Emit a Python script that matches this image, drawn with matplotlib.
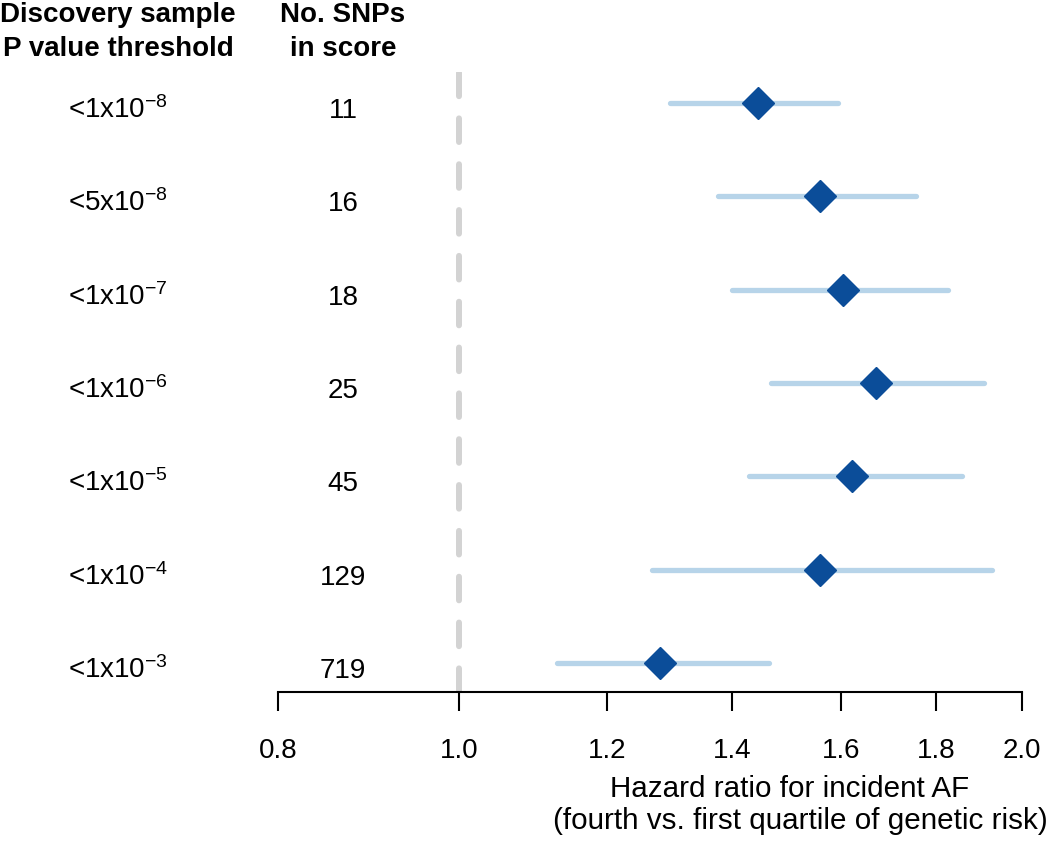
import matplotlib
matplotlib.use('Agg')
import matplotlib.pyplot as plt
import matplotlib.transforms as mtransforms

plt.rcParams['font.family'] = ['Liberation Sans', 'DejaVu Sans']
plt.rcParams['mathtext.fontset'] = 'custom'
plt.rcParams['mathtext.rm'] = 'Liberation Sans'
plt.rcParams['mathtext.it'] = 'Liberation Sans'
plt.rcParams['lines.scale_dashes'] = False

# data (top row first)
thresholds = [r'<1x10$^{-8}$', r'<5x10$^{-8}$', r'<1x10$^{-7}$', r'<1x10$^{-6}$',
              r'<1x10$^{-5}$', r'<1x10$^{-4}$', r'<1x10$^{-3}$']
n_snps = ['11', '16', '18', '25', '45', '129', '719']
hr = [1.444, 1.559, 1.604, 1.671, 1.622, 1.559, 1.280]
ci_low = [1.296, 1.375, 1.399, 1.468, 1.429, 1.268, 1.128]
ci_high = [1.594, 1.755, 1.825, 1.908, 1.857, 1.927, 1.464]
xticks = [0.8, 1.0, 1.2, 1.4, 1.6, 1.8, 2.0]

W, H = 1050, 842
fig = plt.figure(figsize=(W / 100, H / 100), dpi=100)
ax = fig.add_axes([278 / W, 1 - 692 / H, (1022 - 278) / W, (692 - 72) / H])

n = len(hr)
ys = list(range(n, 0, -1))
ax.set_xscale('log')
ax.set_xlim(0.8, 2.0)
ax.set_ylim(1 - 29 / 93.33, n + 31 / 93.33)

ax.axvline(1.0, color='#d3d3d3', lw=4.3, dashes=(17, 16), dash_capstyle='round', zorder=1)
for y, lo, hi, m in zip(ys, ci_low, ci_high, hr):
    ax.plot([lo, hi], [y, y], color='#b7d4e9', lw=3.8, solid_capstyle='round', zorder=2)
    ax.plot(m, y, marker='D', color='#0b4d99', markersize=16.5, zorder=3)

for s in ['top', 'right', 'left']:
    ax.spines[s].set_visible(False)
ax.spines['bottom'].set_linewidth(1.5)
ax.set_yticks([])
ax.set_xticks(xticks)
ax.set_xticklabels(['%.1f' % t for t in xticks])
ax.minorticks_off()
ax.tick_params(axis='x', length=14, width=1.5, pad=19, labelsize=20)

tr = mtransforms.blended_transform_factory(fig.transFigure, ax.transData)
for y, lab, cnt in zip(ys, thresholds, n_snps):
    ax.text(118 / W, y - 0.16, lab, transform=tr, ha='center', va='baseline', fontsize=20)
    ax.text(343 / W, y - 0.16, cnt, transform=tr, ha='center', va='baseline', fontsize=20)

hdr = dict(ha='center', va='baseline', fontsize=20, fontweight='bold')
fig.text(118 / W, 1 - 22 / H, 'Discovery sample', **hdr)
fig.text(118 / W, 1 - 56 / H, 'P value threshold', **hdr)
fig.text(343 / W, 1 - 22 / H, 'No. SNPs', **hdr)
fig.text(343 / W, 1 - 56 / H, 'in score', **hdr)

fig.text(790 / W, 1 - 797 / H, 'Hazard ratio for incident AF', ha='center', va='baseline', fontsize=21.3)
fig.text(800 / W, 1 - 829 / H, '(fourth vs. first quartile of genetic risk)', ha='center', va='baseline', fontsize=21.3)

fig.savefig('out.png', dpi=100)
